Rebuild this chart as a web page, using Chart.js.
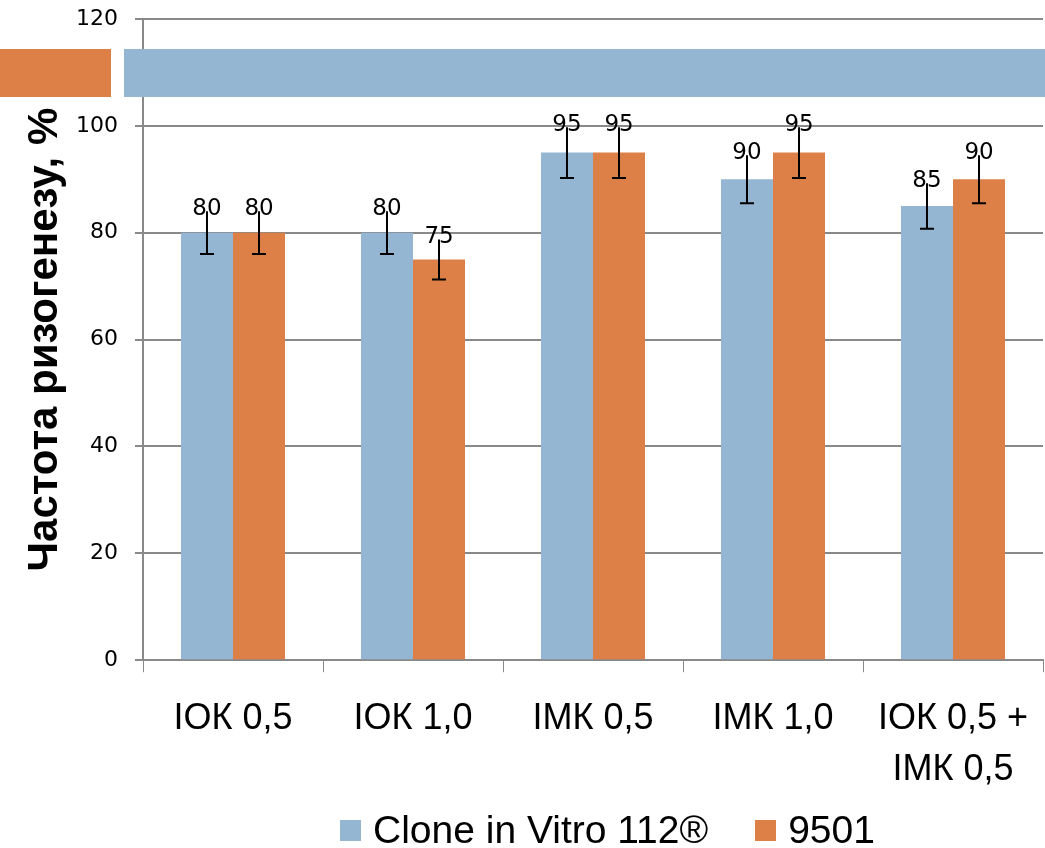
<!DOCTYPE html>
<html>
<head>
<meta charset="utf-8">
<script src="https://cdn.jsdelivr.net/npm/chart.js@4.4.1/dist/chart.umd.min.js"></script>
<style>
    html, body { margin: 0; padding: 0; background: #fff; }
    #wrap { position: relative; width: 1045px; height: 848px; }
    .band { position: absolute; top: 49px; height: 48px; }
    #rizo-legend {
        position: absolute; left: 340px; top: 806px; height: 48px;
        display: flex; align-items: center;
        font-family: "Liberation Sans", sans-serif; font-size: 39px; color: #000;
    }
    .legend-item { display: flex; align-items: center; margin-right: 47px; white-space: nowrap; }
    .legend-color-box { display: inline-block; width: 21px; height: 21px; margin-right: 12px; }
</style>
</head>
<body>
<div id="wrap">
    <canvas id="rizo" width="1045" height="848"></canvas>
    <div class="band" style="left:0;width:111px;background:#DD8047"></div>
    <div class="band" style="left:124px;width:921px;background:#94B6D2"></div>
    <div id="rizo-legend"></div>
</div>
<script>
const categories = [["ІОК 0,5"], ["ІОК 1,0"], ["ІМК 0,5"], ["ІМК 1,0"], ["ІОК 0,5 +", "ІМК 0,5"]];
const cloneValues = [80, 80, 95, 90, 85];
const cloneErrors = [4, 4, 4.75, 4.5, 4.25];
const values9501 = [80, 75, 95, 95, 90];
const errors9501 = [4, 3.75, 4.75, 4.75, 4.5];
const yTicks = [0, 20, 40, 60, 80, 100, 120];

const blue = '#94B6D2';
const orange = '#DD8047';
const axisGray = '#898989';

// error bars + value labels on top of them
const errorBars = {
    id: 'errorBars',
    afterDatasetsDraw(chart) {
        const ctx = chart.ctx;
        const y = chart.scales.y;
        chart.data.datasets.forEach((ds, di) => {
            const meta = chart.getDatasetMeta(di);
            meta.data.forEach((bar, i) => {
                const v = ds.data[i];
                const e = ds.errors[i];
                const top = y.getPixelForValue(v + e);
                const bot = y.getPixelForValue(v - e);
                ctx.save();
                ctx.strokeStyle = '#000';
                ctx.lineWidth = 2;
                ctx.beginPath();
                ctx.moveTo(bar.x, top);
                ctx.lineTo(bar.x, bot);
                ctx.moveTo(bar.x - 7, bot);
                ctx.lineTo(bar.x + 7, bot);
                ctx.stroke();
                ctx.fillStyle = '#000';
                ctx.font = '23px "DejaVu Sans"';
                ctx.textAlign = 'center';
                ctx.textBaseline = 'middle';
                ctx.fillText(String(v), bar.x, top - 2);
                ctx.restore();
            });
        });
    }
};

let c1 = new Chart(document.getElementById('rizo'), {
    type: 'bar',
    data: {
        labels: categories,
        datasets: [
            { label: 'Clone in Vitro 112®', data: cloneValues, errors: cloneErrors, backgroundColor: blue },
            { label: '9501', data: values9501, errors: errors9501, backgroundColor: orange }
        ]
    },
    options: {
        responsive: false,
        animation: false,
        layout: { padding: { top: 19, right: 2, left: 0, bottom: 31 } },
        datasets: {
            bar: { categoryPercentage: 0.578, barPercentage: 1.0 }
        },
        scales: {
            x: {
                afterFit: (axis) => { axis.paddingLeft = 0; axis.paddingRight = 0; },
                grid: { drawOnChartArea: false, color: axisGray, tickLength: 12, offset: true },
                border: { color: axisGray, width: 2 },
                ticks: {
                    color: '#000',
                    font: { family: 'Liberation Sans', size: 36, lineHeight: 1.4 },
                    padding: 22,
                    maxRotation: 0
                }
            },
            y: {
                min: 0,
                max: 120,
                afterBuildTicks: (axis) => { axis.ticks = yTicks.map(v => ({ value: v })); },
                afterFit: (axis) => {
                    axis.width = 143;
                    axis.paddingTop = 0;
                    axis.paddingBottom = 0;
                },
                grid: { color: axisGray, lineWidth: 2, tickLength: 8 },
                border: { color: axisGray, width: 2 },
                ticks: {
                    color: '#000',
                    font: { family: 'DejaVu Sans', size: 22 },
                    padding: 17
                },
                title: {
                    display: true,
                    text: 'Частота ризогенезу, %',
                    color: '#000',
                    font: { family: 'Liberation Sans', size: 42, weight: 'bold' },
                    padding: { top: 20, bottom: 0 }
                }
            }
        },
        plugins: {
            legend: { display: false },
            tooltip: { enabled: false }
        }
    },
    plugins: [errorBars]
});

function generateCustomLegend(chart, legend) {
    const legendContainer = document.getElementById(legend);
    chart.data.datasets.forEach((ds) => {
        const legendItem = document.createElement('div');
        legendItem.classList.add('legend-item');

        const colorBox = document.createElement('span');
        colorBox.classList.add('legend-color-box');
        colorBox.style.backgroundColor = ds.backgroundColor;

        const labelText = document.createElement('span');
        labelText.textContent = ds.label;

        legendItem.appendChild(colorBox);
        legendItem.appendChild(labelText);
        legendContainer.appendChild(legendItem);
    });
}
generateCustomLegend(c1, 'rizo-legend');
</script>
</body>
</html>
